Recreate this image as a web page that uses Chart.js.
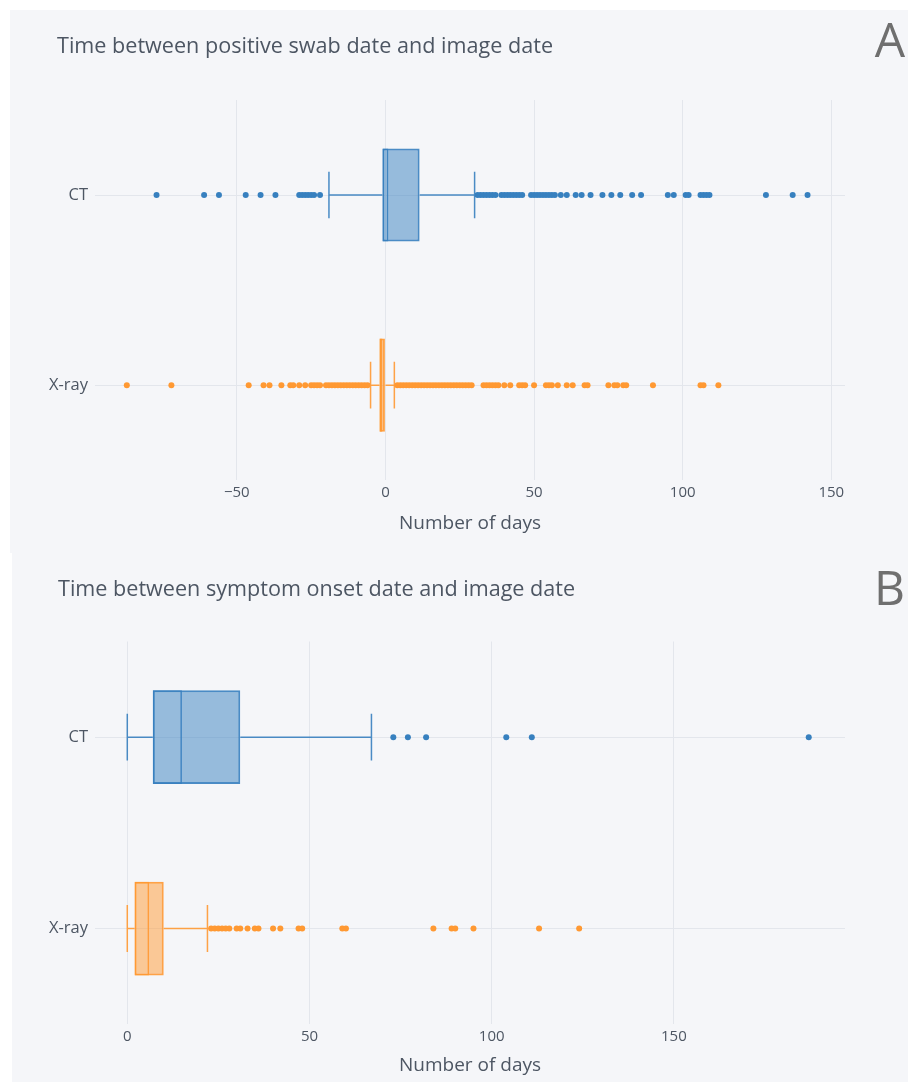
<!DOCTYPE html>
<html>
<head>
<meta charset="utf-8">
<script src="https://cdn.jsdelivr.net/npm/chart.js@4.4.0/dist/chart.umd.min.js"></script>
<style>
  body { margin: 0; background: #fff; width: 908px; height: 1082px; position: relative; overflow: hidden; }
  .panel { position: absolute; background: #f5f6f9; }
  .panel canvas { display: block; }
  #panelA { left: 10px; top: 10px; width: 898px; height: 543px; }
  #panelB { left: 12px; top: 553px; width: 896px; height: 529px; }
</style>
</head>
<body>
<div class="panel" id="panelA"><canvas id="chartA" width="898" height="543"></canvas></div>
<div class="panel" id="panelB"><canvas id="chartB" width="896" height="529"></canvas></div>
<script>
// カテゴリ
const categories = ["CT", "X-ray"];

// A: 陽性スワブ日 → 画像日
const swabLow = [-19, -5];
const swabQ1 = [-1, -2];
const swabMedian = [1, -1];
const swabQ3 = [11.5, 0];
const swabHigh = [30, 3];
const swabCtOutliers = [
  -77, -61, -56, -47, -42, -37, -29, -28, -27, -26, -25, -24, -22,
  31, 32, 33, 34, 35, 36, 37, 39, 40, 41, 42, 43, 44, 45, 46,
  49, 50, 51, 52, 53, 54, 55, 56, 57, 59, 61, 64, 66, 69, 73, 76, 79, 83, 86,
  95, 97, 101, 102, 106, 107, 108, 109, 128, 137, 142
];
const swabXrayOutliers = [
  -87, -72, -46, -41, -39, -35, -32, -31, -29, -27, -25, -24, -23, -22,
  -20, -19, -18, -17, -16, -15, -14, -13, -12, -11, -10, -9, -8, -7, -6,
  4, 5, 6, 7, 8, 9, 10, 11, 12, 13, 14, 15, 16, 17, 18, 19, 20, 21, 22, 23, 24, 25, 26, 27, 28, 29,
  33, 34, 35, 36, 37, 38, 40, 42, 45, 46, 47, 50, 54, 55, 56, 58, 61, 63, 67, 68,
  75, 77, 78, 80, 81, 90, 106, 107, 112
];
const swabTicks = [-50, 0, 50, 100, 150];

// B: 発症日 → 画像日
const onsetLow = [0, 0];
const onsetQ1 = [7, 2];
const onsetMedian = [15, 6];
const onsetQ3 = [31, 10];
const onsetHigh = [67, 22];
const onsetCtOutliers = [73, 77, 82, 104, 111, 187];
const onsetXrayOutliers = [
  23, 24, 25, 26, 27, 28, 30, 31, 33, 35, 36, 40, 42, 47, 48, 59, 60,
  84, 89, 90, 95, 113, 124
];
const onsetTicks = [0, 50, 100, 150];

// 色
const lineColors = ["rgba(55, 128, 191, 0.9)", "rgba(255, 153, 51, 0.9)"];
const fillColors = ["rgba(55, 128, 191, 0.5)", "rgba(255, 153, 51, 0.5)"];
const dotColors = ["#3780bf", "#ff9933"];
const textColor = "#4d5663";
const gridColor = "#e3e6ec";
const FONT = '"Open Sans", "Liberation Sans", sans-serif';

// ひげ描画プラグイン
const whiskerPlugin = {
  id: "whiskers",
  beforeDatasetsDraw(chart, args, opts) {
    const { ctx, scales } = chart;
    const boxMeta = chart.getDatasetMeta(0);
    ctx.save();
    ctx.lineWidth = 1.5;
    opts.low.forEach((lo, i) => {
      const y = scales.y.getPixelForValue(i);
      const half = boxMeta.data[i].height / 4;
      const xLo = scales.x.getPixelForValue(lo);
      const xHi = scales.x.getPixelForValue(opts.high[i]);
      const xQ1 = scales.x.getPixelForValue(opts.q1[i]);
      const xQ3 = scales.x.getPixelForValue(opts.q3[i]);
      ctx.strokeStyle = lineColors[i];
      ctx.beginPath();
      ctx.moveTo(xLo, y);
      ctx.lineTo(xQ1, y);
      ctx.moveTo(xQ3, y);
      ctx.lineTo(xHi, y);
      ctx.moveTo(xLo, y - half);
      ctx.lineTo(xLo, y + half);
      ctx.moveTo(xHi, y - half);
      ctx.lineTo(xHi, y + half);
      ctx.stroke();
    });
    ctx.restore();
  },
};

// タイトルとパネル文字（A / B）
const panelTextPlugin = {
  id: "panelText",
  afterDraw(chart, args, opts) {
    const ctx = chart.ctx;
    ctx.save();
    ctx.textBaseline = "middle";
    ctx.font = "21.6px " + FONT;
    ctx.fillStyle = textColor;
    ctx.textAlign = "left";
    ctx.fillText(opts.title, opts.titleX, opts.titleY);
    ctx.font = "48px " + FONT;
    ctx.fillStyle = "#6f6f6f";
    ctx.textAlign = "right";
    ctx.fillText(opts.letter, chart.width - 3, opts.letterY);
    ctx.restore();
  },
};

function makeBoxChart(canvasId, cfg) {
  const ctx = document.getElementById(canvasId).getContext("2d");
  return new Chart(ctx, {
    type: "bar",
    data: {
      labels: categories,
      datasets: [
        {
          label: "box",
          data: cfg.q1.map((v, i) => [v, cfg.q3[i]]),
          backgroundColor: fillColors,
          borderColor: lineColors,
          borderWidth: 2,
          borderSkipped: false,
          grouped: false,
          categoryPercentage: 1,
          barPercentage: 0.49,
          order: 2,
        },
        {
          label: "median",
          data: cfg.q1.map((v, i) => [v, cfg.median[i]]),
          backgroundColor: "rgba(0,0,0,0)",
          borderColor: lineColors,
          borderWidth: 1.5,
          borderSkipped: false,
          grouped: false,
          categoryPercentage: 1,
          barPercentage: 0.49,
          order: 1,
        },
        {
          type: "scatter",
          label: "CT outliers",
          data: cfg.ctOut.map((v) => ({ x: v, y: "CT" })),
          pointRadius: 3,
          pointBorderWidth: 0,
          pointBackgroundColor: dotColors[0],
          order: 0,
        },
        {
          type: "scatter",
          label: "X-ray outliers",
          data: cfg.xrOut.map((v) => ({ x: v, y: "X-ray" })),
          pointRadius: 3,
          pointBorderWidth: 0,
          pointBackgroundColor: dotColors[1],
          order: 0,
        },
      ],
    },
    options: {
      indexAxis: "y",
      responsive: false,
      animation: false,
      layout: { padding: cfg.padding },
      plugins: {
        legend: { display: false },
        tooltip: { enabled: false },
        title: { display: false },
        whiskers: { low: cfg.low, q1: cfg.q1, q3: cfg.q3, high: cfg.high },
        panelText: {
          title: cfg.title,
          titleX: cfg.titleX,
          titleY: cfg.titleY,
          letter: cfg.letter,
          letterY: cfg.letterY,
        },
      },
      scales: {
        x: {
          type: "linear",
          min: cfg.xMin,
          max: cfg.xMax,
          afterBuildTicks: (s) => {
            s.ticks = cfg.ticks.map((v) => ({ value: v }));
          },
          grid: { color: gridColor, drawTicks: false },
          border: { display: false },
          ticks: {
            padding: 4,
            color: textColor,
            font: { family: FONT, size: 15 },
            callback: (v) => String(v).replace("-", "\u2212"),
          },
          title: {
            display: true,
            text: "Number of days",
            color: textColor,
            font: { family: FONT, size: 19 },
            padding: { top: cfg.axisTitleTop, bottom: 0 },
          },
        },
        y: {
          type: "category",
          offset: true,
          grid: { color: gridColor, drawTicks: false, offset: false },
          border: { display: false },
          ticks: {
            padding: 7,
            color: textColor,
            font: { family: FONT, size: 16.5 },
          },
          afterFit: (s) => {
            s.width = cfg.yWidth;
          },
        },
      },
    },
    plugins: [whiskerPlugin, panelTextPlugin],
  });
}

makeBoxChart("chartA", {
  title: "Time between positive swab date and image date",
  titleX: 47,
  titleY: 37,
  letter: "A",
  letterY: 33,
  low: swabLow,
  q1: swabQ1,
  median: swabMedian,
  q3: swabQ3,
  high: swabHigh,
  ctOut: swabCtOutliers,
  xrOut: swabXrayOutliers,
  ticks: swabTicks,
  xMin: -97.7,
  xMax: 154.6,
  padding: { left: 0, right: 63, top: 90, bottom: 18 },
  axisTitleTop: 6,
  yWidth: 85,
});

makeBoxChart("chartB", {
  title: "Time between symptom onset date and image date",
  titleX: 46,
  titleY: 37,
  letter: "B",
  letterY: 38,
  low: onsetLow,
  q1: onsetQ1,
  median: onsetMedian,
  q3: onsetQ3,
  high: onsetHigh,
  ctOut: onsetCtOutliers,
  xrOut: onsetXrayOutliers,
  ticks: onsetTicks,
  xMin: -8.86,
  xMax: 196.95,
  padding: { left: 0, right: 63, top: 88.5, bottom: 5 },
  axisTitleTop: 4,
  yWidth: 83,
});
</script>
</body>
</html>
